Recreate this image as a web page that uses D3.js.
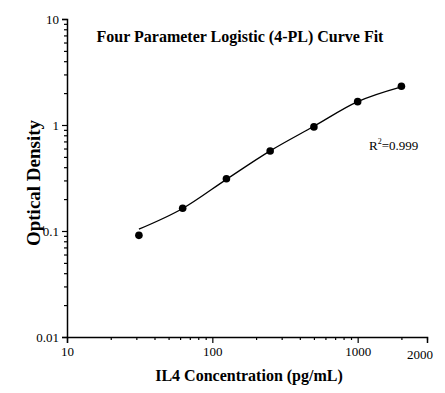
<!DOCTYPE html>
<html>
<head>
<meta charset="utf-8">
<script src="https://cdn.jsdelivr.net/npm/d3@7"></script>
<style>
  body { margin: 0; background: #fff; }
  text { font-family: "Liberation Serif", "Times New Roman", serif; fill: #000; }
</style>
</head>
<body>
<svg width="445" height="393"></svg>
<script>
// standard points
var concentration = [31.25, 62.5, 125, 250, 500, 1000, 2000]
var density = [0.091, 0.164, 0.311, 0.569, 0.96, 1.66, 2.32]
// fitted curve values at the same concentrations
var fitDensity = [0.104, 0.163, 0.307, 0.57, 0.972, 1.66, 2.29]

var xMajor = [10, 100, 1000]
var xMinor = [20, 30, 40, 50, 60, 70, 80, 90, 200, 300, 400, 500, 600, 700, 800, 900, 2000, 3000]
var yMajor = [0.01, 0.1, 1, 10]
var yMinor = [0.02, 0.03, 0.04, 0.05, 0.06, 0.07, 0.08, 0.09,
              0.2, 0.3, 0.4, 0.5, 0.6, 0.7, 0.8, 0.9,
              2, 3, 4, 5, 6, 7, 8, 9]

var svg = d3.select("svg")

var margin = {top: 19, right: 18, bottom: 56, left: 67},
    width = 445 - margin.left - margin.right,
    height = 393 - margin.top - margin.bottom

var x = d3.scaleLog().domain([10, 3000]).range([0, width])
var y = d3.scaleLog().domain([0.01, 10]).range([height, 0])

var g = svg.append("g").attr("transform", "translate(" + margin.left + "," + margin.top + ")")

// x axis
var xAxis = g.append("g").attr("transform", "translate(0," + height + ")")
xAxis.call(d3.axisBottom(x).tickValues(xMajor).tickFormat(d3.format("d")).tickSize(6).tickPadding(4))
xAxis.append("g").call(d3.axisBottom(x).tickValues(xMinor).tickFormat("").tickSize(3))
xAxis.selectAll("text").attr("font-size", 13)
// last label sits near the end of the axis
xAxis.append("text")
    .attr("x", x(3000) - 7)
    .attr("y", 22)
    .attr("text-anchor", "middle")
    .attr("font-size", 13)
    .text("2000")

// y axis
var yAxis = g.append("g")
yAxis.call(d3.axisLeft(y).tickValues(yMajor).tickFormat(function(d){ return String(d) }).tickSize(5).tickPadding(3))
yAxis.append("g").call(d3.axisLeft(y).tickValues(yMinor).tickFormat("").tickSize(3))
yAxis.selectAll("text").attr("font-size", 13)

svg.selectAll(".domain").attr("stroke", "#000").attr("stroke-width", 1.5)
svg.selectAll(".tick line").attr("stroke", "#000").attr("stroke-width", 1.2)
xAxis.selectAll("g").select(".domain").remove()
yAxis.selectAll("g").select(".domain").remove()

// fitted curve
var fitLine = d3.line()
    .x(function(d, i){ return x(concentration[i]) })
    .y(function(d){ return y(d) })
    .curve(d3.curveMonotoneX)

g.append("path")
    .datum(fitDensity)
    .attr("fill", "none")
    .attr("stroke", "#000")
    .attr("stroke-width", 1.3)
    .attr("d", fitLine)

g.selectAll(".dot")
    .data(density)
    .enter().append("circle")
    .attr("class", "dot")
    .attr("cx", function(d, i){ return x(concentration[i]) })
    .attr("cy", function(d){ return y(d) })
    .attr("r", 3.8)
    .attr("fill", "#000")

// titles
svg.append("text")
    .attr("x", 240).attr("y", 42)
    .attr("text-anchor", "middle")
    .attr("font-size", 16).attr("font-weight", "bold")
    .text("Four Parameter Logistic (4-PL) Curve Fit")

svg.append("text")
    .attr("x", 249).attr("y", 381)
    .attr("text-anchor", "middle")
    .attr("font-size", 16).attr("font-weight", "bold")
    .text("IL4 Concentration (pg/mL)")

svg.append("text")
    .attr("transform", "translate(40,183) rotate(-90)")
    .attr("text-anchor", "middle")
    .attr("font-size", 19).attr("font-weight", "bold")
    .text("Optical Density")

var r2 = svg.append("text")
    .attr("x", 369).attr("y", 150)
    .attr("font-size", 13)
r2.append("tspan").text("R")
r2.append("tspan").attr("font-size", 8).attr("dy", -6).text("2")
r2.append("tspan").attr("dy", 6).text("=0.999")
</script>
</body>
</html>
